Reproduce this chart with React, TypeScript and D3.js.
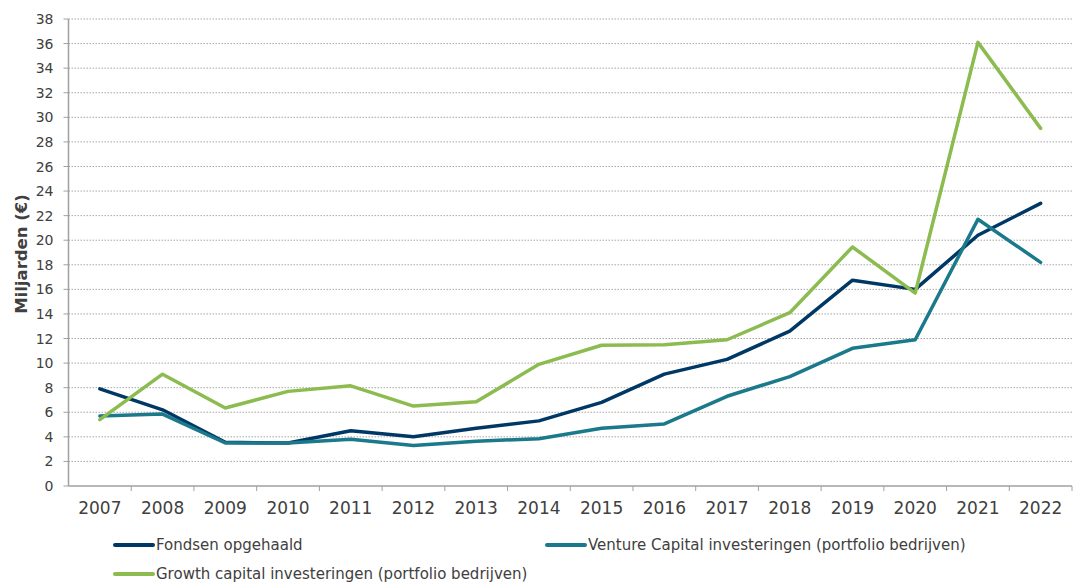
import React from "react";
import * as d3 from "d3";

const years = ["2007","2008","2009","2010","2011","2012","2013","2014","2015","2016","2017","2018","2019","2020","2021","2022"];
const fondsen = [7.9, 6.2, 3.55, 3.5, 4.5, 4.0, 4.7, 5.3, 6.8, 9.1, 10.3, 12.6, 16.75, 16.0, 20.4, 23.0];
const venture = [5.7, 5.85, 3.5, 3.5, 3.8, 3.3, 3.65, 3.85, 4.7, 5.05, 7.3, 8.9, 11.2, 11.9, 21.7, 18.2];
const growth = [5.4, 9.1, 6.35, 7.7, 8.15, 6.5, 6.85, 9.9, 11.45, 11.5, 11.9, 14.1, 19.45, 15.7, 36.1, 29.1];
const yTicks = d3.range(0, 39, 2);

const series = [
  { name: "Fondsen opgehaald", values: fondsen, color: "#003865" },
  { name: "Venture Capital investeringen (portfolio bedrijven)", values: venture, color: "#1a798a" },
  { name: "Growth capital investeringen (portfolio bedrijven)", values: growth, color: "#8cbb50" },
];

export default function App() {
  const W = 1073, H = 585;
  const left = 68.5, right = 1072, top = 19, bottom = 486;
  const x = d3.scaleBand<string>().domain(years).range([left, right]);
  const y = d3.scaleLinear().domain([0, 38]).range([bottom, top]);
  const line = d3.line<number>()
    .x((_, i) => (x(years[i]) as number) + x.bandwidth() / 2)
    .y((d) => y(d));
  const font = "'DejaVu Sans', Verdana, sans-serif";
  const legend = [
    { s: series[0], lx: 113, ly: 545 },
    { s: series[1], lx: 545, ly: 545 },
    { s: series[2], lx: 113, ly: 574 },
  ];
  return (
    <svg width={W} height={H} style={{ position: "absolute", left: 0, top: 0, background: "#fff" }} fontFamily={font}>
      {yTicks.filter((t) => t > 0).map((t) => (
        <line key={t} x1={left} x2={right} y1={y(t)} y2={y(t)} stroke="#a6a6a6" strokeWidth={1} strokeDasharray="1.5,1.5" />
      ))}
      {yTicks.map((t) => (
        <g key={"yt" + t}>
          <line x1={left - 5} x2={left} y1={y(t)} y2={y(t)} stroke="#a0a0a0" />
          <text x={left - 15} y={y(t)} dy="0.36em" textAnchor="end" fontSize={14} fill="#404040">{t}</text>
        </g>
      ))}
      <line x1={left} x2={left} y1={top} y2={bottom} stroke="#a0a0a0" strokeWidth={1.5} />
      <line x1={left} x2={right} y1={bottom} y2={bottom} stroke="#a0a0a0" strokeWidth={1.5} />
      {years.map((yr) => (
        <g key={yr}>
          <line x1={(x(yr) as number) + x.bandwidth()} x2={(x(yr) as number) + x.bandwidth()} y1={bottom} y2={bottom + 5} stroke="#a0a0a0" />
          <text x={(x(yr) as number) + x.bandwidth() / 2} y={508} dy="0.36em" textAnchor="middle" fontSize={17} fill="#404040">{yr}</text>
        </g>
      ))}
      <text transform={`translate(27,${254}) rotate(-90)`} textAnchor="middle" fontSize={16.5} fontWeight="bold" fill="#404040">Miljarden (€)</text>
      {series.map((s) => (
        <path key={s.name} d={line(s.values) as string} fill="none" stroke={s.color} strokeWidth={3.5} strokeLinejoin="round" strokeLinecap="round" />
      ))}
      {legend.map(({ s, lx, ly }) => (
        <g key={"lg" + s.name}>
          <line x1={lx + 2} x2={lx + 40} y1={ly} y2={ly} stroke={s.color} strokeWidth={4} strokeLinecap="round" />
          <text x={lx + 43} y={ly} dy="0.36em" fontSize={15} fill="#404040">{s.name}</text>
        </g>
      ))}
    </svg>
  );
}
